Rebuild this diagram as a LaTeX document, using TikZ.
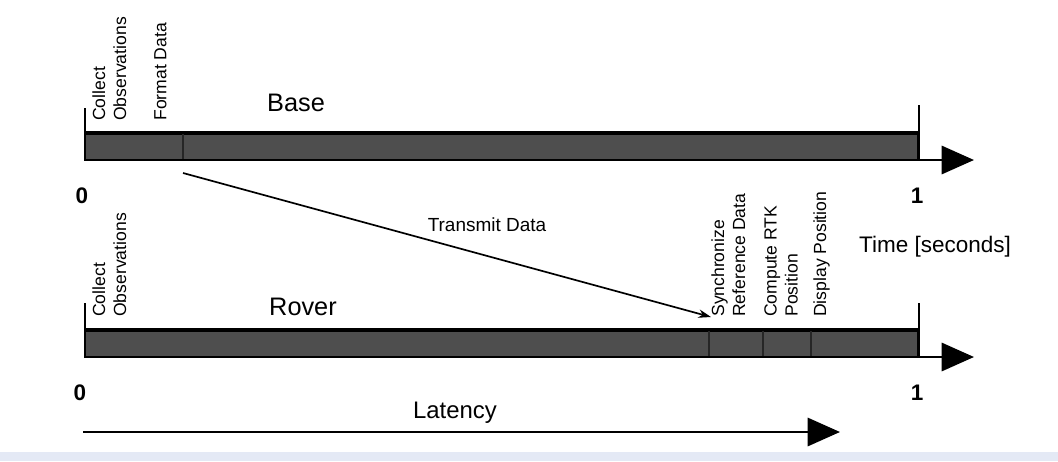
\documentclass[tikz,border=0pt]{standalone}
\usepackage{fontspec}
\setmainfont{Liberation Sans}
\usetikzlibrary{arrows.meta,positioning,calc}

\definecolor{bandblue}{RGB}{228,233,245}
\definecolor{bargray}{RGB}{78,78,78}

\tikzset{
  bar/.style={draw=black, line width=2pt, fill=bargray},
  axis/.style={line width=2pt, -{Triangle[length=23pt,width=20pt]}},
  tick/.style={line width=1.2pt},
  split/.style={line width=0.8pt, black!85},
  task/.style={rotate=90, anchor=north west, inner sep=0pt, align=left,
    font=\fontsize{12.5}{15}\selectfont},
  title/.style={font=\fontsize{18}{20}\selectfont},
  axislabel/.style={font=\fontsize{16}{18}\selectfont},
  num/.style={font=\bfseries\fontsize{16}{18}\selectfont}
}

\begin{document}
\begin{tikzpicture}[x=0.025cm, y=-0.025cm]
  \useasboundingbox (0,0) rectangle (1058,461);
  \fill[bandblue] (0,452) rectangle (1058,461);

  % Base timeline
  \draw[tick] (85,108) -- (85,133);
  \draw[bar] (85,133) rectangle (918,160);
  \draw[line width=3pt] (85,133) -- (918,133);
  \draw[split] (183,134) -- (183,159);
  \draw[tick] (919,105) -- (919,160);
  \draw[axis] (918,160) -- (974,160);

  \node[task] (bcollect) at (92,121) {Collect\\Observations};
  \node[task] (bformat) at (154,121) {Format Data};
  \node[title] (base) at (296,103) {Base};
  \node[num] (bzero) at (82,196) {0};
  \node[num] (bone) at (917,196) {1};

  % Rover timeline
  \draw[tick] (85,303) -- (85,330);
  \draw[bar] (85,330) rectangle (918,357);
  \draw[line width=3pt] (85,330) -- (918,330);
  \foreach \x in {709,763,811} {
    \draw[split] (\x,331) -- (\x,356);
  }
  \draw[tick] (919,303) -- (919,357);
  \draw[axis] (918,357) -- (974,357);

  \node[task] (rcollect) at (92,317) {Collect\\Observations};
  \node[task] (sync) at (711,317) {Synchronize\\Reference Data};
  \node[task] (rtk) at (764,317) {Compute RTK\\Position};
  \node[task] (disp) at (813,317) {Display Position};
  \node[title] (rover) at (303,307) {Rover};
  \node[num] (rzero) at (80,393) {0};
  \node[num] (rone) at (917,393) {1};

  \node[axislabel] (time) at (935,247) {Time [seconds]};

  % Transmit data
  \coordinate (send) at (183,173);
  \draw[line width=1.2pt, -{Stealth[length=9pt,width=6pt]}] (send) -- (sync.north west);
  \node[font=\fontsize{13.5}{16}\selectfont] (transmit) at (487,225) {Transmit Data};

  % Latency
  \coordinate (lstart) at (83,432);
  \coordinate (lend) at (840,432);
  \draw[axis] (lstart) -- (lend);
  \node[font=\fontsize{17}{19}\selectfont] (latency) at (455,413) {Latency};
\end{tikzpicture}
\end{document}
